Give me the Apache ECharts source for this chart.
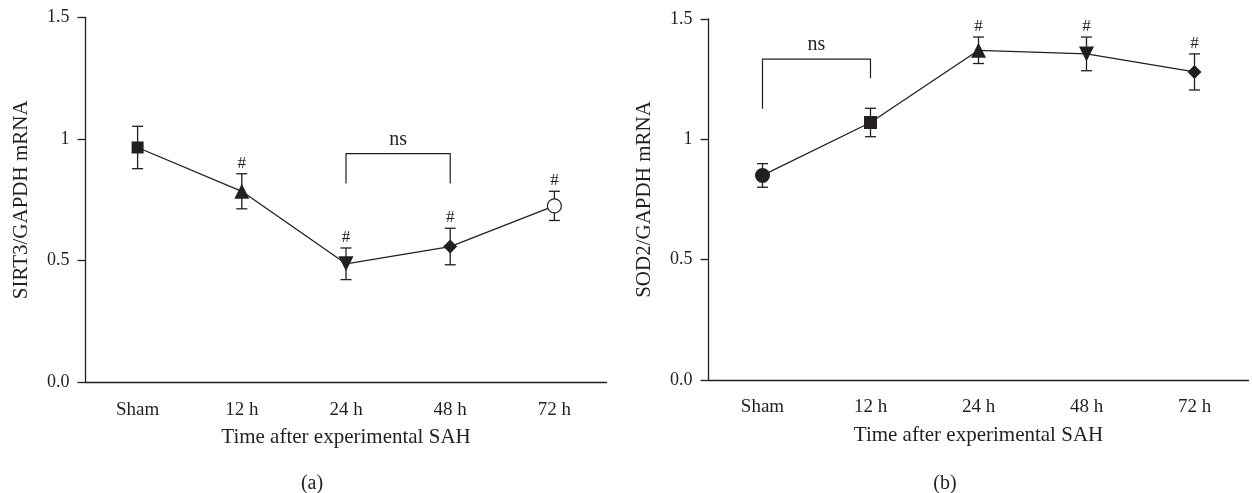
<!DOCTYPE html>
<html>
<head>
<meta charset="utf-8">
<script src="https://cdn.jsdelivr.net/npm/echarts@6/dist/echarts.min.js"></script>
<style>
  html, body { margin: 0; padding: 0; background: #fff; }
  #chart { width: 1252px; height: 493px; }
</style>
</head>
<body>
<div id="chart"></div>
<script>
// data
var categories = ['Sham', '12 h', '24 h', '48 h', '72 h'];
var yTickLabels = ['0.0', '0.5', '1', '1.5'];

var sirt3Mean = [0.965, 0.785, 0.487, 0.558, 0.725];
var sirt3Err  = [0.087, 0.072, 0.065, 0.075, 0.060];
var sirt3Hash = [0, 1, 1, 1, 1];
// [fromCat, toCat, barValue, leftLegEnd, rightLegEnd]
var sirt3Ns = [2, 3, 0.94, 0.817, 0.817];

var sod2Mean = [0.850, 1.070, 1.370, 1.355, 1.280];
var sod2Err  = [0.049, 0.059, 0.055, 0.070, 0.075];
var sod2Hash = [0, 0, 1, 1, 1];
var sod2Ns = [0, 1, 1.333, 1.127, 1.254];

var INK = '#231f20';
var FONT = '"Liberation Serif", "DejaVu Serif", serif';

var myChart = echarts.init(document.getElementById('chart'));

// marker shapes per panel
var shapesA = [
  { symbol: 'rect', symbolSize: 12 },
  { symbol: 'triangle', symbolSize: 15 },
  { symbol: 'triangle', symbolSize: 15, symbolRotate: 180 },
  { symbol: 'diamond', symbolSize: 14 },
  { symbol: 'circle', symbolSize: 14, itemStyle: { color: '#fff', borderColor: INK, borderWidth: 1.2 } }
];
var shapesB = [
  { symbol: 'circle', symbolSize: 15 },
  { symbol: 'rect', symbolSize: 13 },
  { symbol: 'triangle', symbolSize: 15 },
  { symbol: 'triangle', symbolSize: 15, symbolRotate: 180 },
  { symbol: 'diamond', symbolSize: 14 }
];

function points(means, shapes) {
  return means.map(function (v, i) {
    return Object.assign({ value: v }, shapes[i]);
  });
}

function errRows(means, errs, hash) {
  return means.map(function (v, i) { return [i, v, errs[i], hash[i]]; });
}

function renderErr(params, api) {
  var x = api.value(0), m = api.value(1), e = api.value(2);
  var top = api.coord([x, m + e]);
  var bot = api.coord([x, m - e]);
  var w = 5.5;
  var st = { stroke: INK, lineWidth: 1.3 };
  return {
    type: 'group',
    children: [
      { type: 'line', shape: { x1: top[0], y1: top[1], x2: bot[0], y2: bot[1] }, style: st },
      { type: 'line', shape: { x1: top[0] - w, y1: top[1], x2: top[0] + w, y2: top[1] }, style: st },
      { type: 'line', shape: { x1: bot[0] - w, y1: bot[1], x2: bot[0] + w, y2: bot[1] }, style: st }
    ]
  };
}

function renderHash(params, api) {
  if (!api.value(3)) return null;
  var x = api.value(0), m = api.value(1), e = api.value(2);
  var top = api.coord([x, m + e]);
  return {
    type: 'text',
    x: top[0], y: top[1] - 2,
    style: { text: '#', fill: INK, font: '17px ' + FONT, align: 'center', verticalAlign: 'bottom' }
  };
}

function renderNs(params, api) {
  var a = api.coord([api.value(0), api.value(2)]);
  var b = api.coord([api.value(1), api.value(2)]);
  var la = api.coord([api.value(0), api.value(3)]);
  var lb = api.coord([api.value(1), api.value(4)]);
  return {
    type: 'group',
    children: [
      { type: 'polyline', shape: { points: [la, a, b, lb] }, style: { stroke: INK, lineWidth: 1.2, fill: null } },
      { type: 'text', x: (a[0] + b[0]) / 2, y: a[1] - 4,
        style: { text: 'ns', fill: INK, font: '20px ' + FONT, align: 'center', verticalAlign: 'bottom' } }
    ]
  };
}

function xAxisCfg(gi) {
  return {
    type: 'category', gridIndex: gi, data: categories, boundaryGap: true,
    name: 'Time after experimental SAH', nameLocation: 'middle', nameGap: 45,
    nameTextStyle: { color: INK, fontFamily: FONT, fontSize: 21 },
    axisLine: { lineStyle: { color: INK, width: 1.3 } },
    axisTick: { alignWithLabel: true, length: 6, lineStyle: { color: INK, width: 1.3 } },
    axisLabel: { color: INK, fontFamily: FONT, fontSize: 19, margin: 18 },
    splitLine: { show: false }
  };
}

function yAxisCfg(gi, title) {
  return {
    type: 'value', gridIndex: gi, min: 0, max: 1.5, interval: 0.5,
    name: title, nameLocation: 'middle', nameGap: 54,
    nameTextStyle: { color: INK, fontFamily: FONT, fontSize: 21 },
    axisLine: { show: true, lineStyle: { color: INK, width: 1.3 } },
    axisTick: { show: true, length: 8, lineStyle: { color: INK, width: 1.3 } },
    axisLabel: {
      color: INK, fontFamily: FONT, fontSize: 18, margin: 16,
      formatter: function (v) { return yTickLabels[Math.round(v / 0.5)]; }
    },
    splitLine: { show: false }
  };
}

function panelSeries(idx, means, errs, hash, ns, shapes) {
  return [
    { type: 'custom', xAxisIndex: idx, yAxisIndex: idx, renderItem: renderErr,
      data: errRows(means, errs, hash), z: 1, silent: true },
    { type: 'line', xAxisIndex: idx, yAxisIndex: idx, data: points(means, shapes),
      lineStyle: { color: INK, width: 1.3 }, itemStyle: { color: INK },
      showAllSymbol: true, z: 3, animation: false },
    { type: 'custom', xAxisIndex: idx, yAxisIndex: idx, renderItem: renderHash,
      data: errRows(means, errs, hash), z: 4, silent: true },
    { type: 'custom', xAxisIndex: idx, yAxisIndex: idx, renderItem: renderNs,
      data: [ns], z: 4, silent: true }
  ];
}

var option = {
  animation: false,
  backgroundColor: '#fff',
  title: [
    { text: '(a)', left: 307, top: 469, textAlign: 'center',
      textStyle: { color: INK, fontFamily: FONT, fontSize: 20, fontWeight: 'normal' } },
    { text: '(b)', left: 940, top: 469, textAlign: 'center',
      textStyle: { color: INK, fontFamily: FONT, fontSize: 20, fontWeight: 'normal' } }
  ],
  grid: [
    { left: 85.5, top: 17.3, width: 521, height: 365 },
    { left: 708.5, top: 19, width: 540, height: 361 }
  ],
  xAxis: [xAxisCfg(0), xAxisCfg(1)],
  yAxis: [yAxisCfg(0, 'SIRT3/GAPDH mRNA'), yAxisCfg(1, 'SOD2/GAPDH mRNA')],
  series: panelSeries(0, sirt3Mean, sirt3Err, sirt3Hash, sirt3Ns, shapesA)
    .concat(panelSeries(1, sod2Mean, sod2Err, sod2Hash, sod2Ns, shapesB))
};

myChart.setOption(option);
</script>
</body>
</html>
